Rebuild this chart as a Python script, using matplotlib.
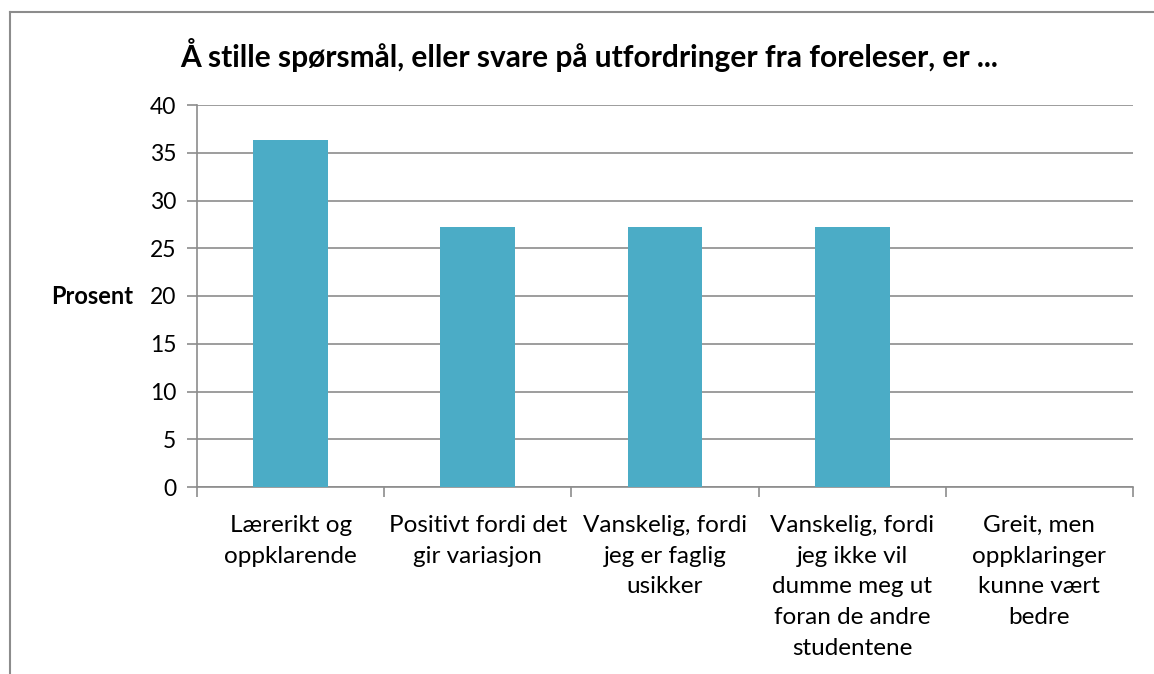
import matplotlib
matplotlib.use("Agg")
import matplotlib.pyplot as plt
from matplotlib.lines import Line2D

plt.rcParams['font.family'] = ['Lato', 'DejaVu Sans']

categories = [
    "Lærerikt og\noppklarende",
    "Positivt fordi det\ngir variasjon",
    "Vanskelig, fordi\njeg er faglig\nusikker",
    "Vanskelig, fordi\njeg ikke vil\ndumme meg ut\nforan de andre\nstudentene",
    "Greit, men\noppklaringer\nkunne vært\nbedre",
]
values = [36.36, 27.27, 27.27, 27.27, 0.0]
yticks = [0, 5, 10, 15, 20, 25, 30, 35, 40]
title = "Å stille spørsmål, eller svare på utfordringer fra foreleser, er ..."
ylabel = "Prosent"

W, H = 1154, 674
fig = plt.figure(figsize=(W / 100, H / 100), dpi=100)
ax = fig.add_axes([197 / W, 1 - 487 / H, (1133 - 197) / W, (487 - 105) / H])

grid_c = "#8c8c8c"
x = list(range(len(categories)))
ax.bar(x, values, width=0.4, color="#4BACC6", zorder=3)
ax.set_xlim(-0.5, len(categories) - 0.5)
ax.set_ylim(0, 40)
ax.set_yticks(yticks)
ax.set_yticklabels([str(t) for t in yticks], fontsize=16.5)
ax.yaxis.grid(True, color=grid_c, linewidth=1.2, zorder=0)
ax.set_xticks([i - 0.5 for i in range(len(categories) + 1)])
ax.set_xticklabels([])
ax.set_xticks(x, minor=True)
ax.set_xticklabels(categories, minor=True, fontsize=17.5, linespacing=1.58, va="top")
ax.tick_params(axis="x", which="minor", length=0, pad=20)
ax.tick_params(axis="x", which="major", length=7, color=grid_c, width=1.2, direction="out")
ax.tick_params(axis="y", length=7, color=grid_c, width=1.2, direction="out", pad=8)
for s in ["top", "right"]:
    ax.spines[s].set_visible(False)
for s in ["left", "bottom"]:
    ax.spines[s].set_color(grid_c)
    ax.spines[s].set_linewidth(1.2)

fig.text(589 / W, 1 - 55 / H, title, ha="center", va="center", fontsize=21.5, fontweight="bold")
fig.text(133 / W, 1 - 297 / H, ylabel, ha="right", va="center", fontsize=17, fontweight="bold")

fig.add_artist(Line2D([10 / W, 10 / W], [0, 1 - 12 / H], color="#8c8c8c", linewidth=1.5, transform=fig.transFigure))
fig.add_artist(Line2D([10 / W, 1], [1 - 12 / H, 1 - 12 / H], color="#8c8c8c", linewidth=1.5, transform=fig.transFigure))

fig.savefig("out.png", dpi=100)
